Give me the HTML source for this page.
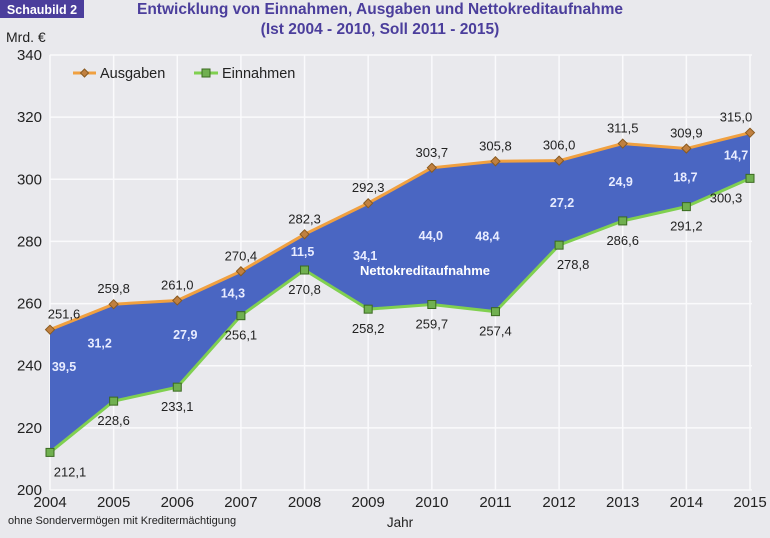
<!DOCTYPE html>
<html><head><meta charset="utf-8"><style>
body{margin:0;background:#e9e9ed;}
svg{display:block;font-family:"Liberation Sans",Arial,sans-serif;}
</style></head><body>
<svg id="c" width="770" height="538">
<rect x="0" y="0" width="770" height="538" fill="#e9e9ed"/>
<rect x="0" y="0" width="84" height="18" fill="#4b3e9c"/>
<text x="42" y="14" fill="#fff" font-size="12.5" font-weight="bold" text-anchor="middle">Schaubild 2</text>
<text x="380" y="14" fill="#4b3e9c" font-size="15.5" font-weight="bold" text-anchor="middle">Entwicklung von Einnahmen, Ausgaben und Nettokreditaufnahme</text>
<text x="380" y="34" fill="#4b3e9c" font-size="15.5" font-weight="bold" text-anchor="middle">(Ist 2004 - 2010, Soll 2011 - 2015)</text>
<text x="6" y="42" fill="#222" font-size="14">Mrd. €</text>
<g id="grid"></g><g id="marks"></g><g id="labels"></g>
<g>
<line x1="73" y1="73" x2="96" y2="73" stroke="#f0a040" stroke-width="3"/>
<path d="M84.5 69 L88.5 73 L84.5 77 L80.5 73Z" fill="#c08040" stroke="#8a5a20"/>
<text x="100" y="78" font-size="14.5" fill="#222">Ausgaben</text>
<line x1="194" y1="73" x2="218" y2="73" stroke="#80d050" stroke-width="3"/>
<rect x="202" y="69" width="8" height="8" fill="#70b050" stroke="#3a6a20"/>
<text x="222" y="78" font-size="14.5" fill="#222">Einnahmen</text>
</g>
<text x="425" y="275" fill="#fff" font-size="13" font-weight="bold" text-anchor="middle">Nettokreditaufnahme</text>
<text x="400" y="527" fill="#222" font-size="13.5" text-anchor="middle">Jahr</text>
<text x="8" y="524" fill="#222" font-size="11">ohne Sondervermögen mit Kreditermächtigung</text>
</svg>
<script>
const years=[2004,2005,2006,2007,2008,2009,2010,2011,2012,2013,2014,2015];
const ausgaben=[251.6,259.8,261.0,270.4,282.3,292.3,303.7,305.8,306.0,311.5,309.9,315.0];
const einnahmen=[212.1,228.6,233.1,256.1,270.8,258.2,259.7,257.4,278.8,286.6,291.2,300.3];
const kredit=[39.5,31.2,27.9,14.3,11.5,34.1,44.0,48.4,27.2,24.9,18.7,14.7];
const yTicks=[200,220,240,260,280,300,320,340];
const fmt=v=>v.toFixed(1).replace('.',',');
const X=i=>50+i*(700/(years.length-1));
const Y=v=>490-(v-200)*(435/140);
const NS='http://www.w3.org/2000/svg';
function mk(p,t,a){const e=document.createElementNS(NS,t);for(const k in a)e.setAttribute(k,a[k]);p.appendChild(e);return e;}
const grid=document.getElementById('grid'),marks=document.getElementById('marks'),labels=document.getElementById('labels');
yTicks.forEach(t=>{
 const l=mk(grid,'line',{x1:50,x2:752,y1:Y(t),y2:Y(t),stroke:'#fafafc','stroke-width':1.5});
 
 
 const tx=mk(grid,'text',{x:42,y:Y(t)+5,'text-anchor':'end','font-size':15,fill:'#222'});tx.textContent=t;
 
 
});
years.forEach((yr,i)=>{
 const l=mk(grid,'line',{x1:X(i),x2:X(i),y1:Y(340),y2:Y(200),stroke:'#fafafc','stroke-width':1.5});
 
 
 const tx=mk(grid,'text',{x:X(i),y:507,'text-anchor':'middle','font-size':15,fill:'#222'});tx.textContent=yr;
 
 
});
let d=ausgaben.map((v,i)=>(i?'L':'M')+X(i)+' '+Y(v)).join(' ');
for(let i=years.length-1;i>=0;i--)d+=' L'+X(i)+' '+Y(einnahmen[i]);
const area=mk(marks,'path',{d:d+'Z',fill:'#4a66c2'});


const la=mk(marks,'polyline',{points:ausgaben.map((v,i)=>X(i)+','+Y(v)).join(' '),fill:'none',stroke:'#f0a040','stroke-width':3});


const le=mk(marks,'polyline',{points:einnahmen.map((v,i)=>X(i)+','+Y(v)).join(' '),fill:'none',stroke:'#80d050','stroke-width':3});


const kdx=[14,-14,8,-8,-2,-3,-1,-8,3,-2,-1,-14];
years.forEach((yr,i)=>{
 const x=X(i),ya=Y(ausgaben[i]),ye=Y(einnahmen[i]);
 const m=mk(marks,'path',{d:`M${x} ${ya-4.5} L${x+4.5} ${ya} L${x} ${ya+4.5} L${x-4.5} ${ya}Z`,fill:'#c08040',stroke:'#8a5a20'});
 
 
 const s=mk(marks,'rect',{x:x-4,y:ye-4,width:8,height:8,fill:'#70b050',stroke:'#3a6a20'});
 
 
 const ta=mk(labels,'text',{x:i==0?x+14:(i==11?x-14:x),y:ya-11,'text-anchor':'middle','font-size':13,fill:'#222'});ta.textContent=fmt(ausgaben[i]);
 
 
 const ex=i==0?x+20:(i==8?x+14:(i==11?x-24:x));
 const te=mk(labels,'text',{x:ex,y:ye+24,'text-anchor':'middle','font-size':13,fill:'#222'});te.textContent=fmt(einnahmen[i]);
 
 
 const mid=(ausgaben[i]+einnahmen[i])/2;
 const tk=mk(labels,'text',{x:x+kdx[i],y:Y(mid)-(i==0?20:i<3?5:-4),'text-anchor':'middle','font-size':12.5,'font-weight':'bold',fill:'#e8ecff'});tk.textContent=fmt(kredit[i]);
 
 
});
</script>
</body></html>
